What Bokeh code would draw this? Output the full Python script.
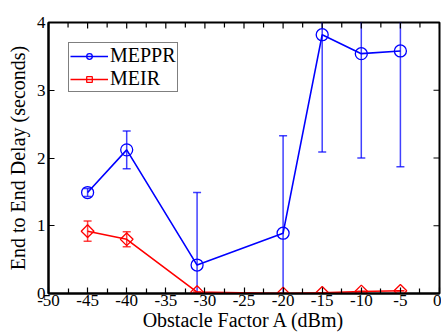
import math
from bokeh.plotting import figure
from bokeh.models import (Range1d, FixedTicker, Whisker, ColumnDataSource,
                          Legend, LegendItem)
from bokeh.embed import file_html
from bokeh.resources import INLINE

# ---- data ----
x_vals = [-45, -40, -31, -20, -15, -10, -5]
meppr = [1.49, 2.12, 0.42, 0.89, 3.82, 3.54, 3.58]
meppr_err = [0.06, 0.28, 1.07, 1.44, 1.73, 1.54, 1.71]
meir = [0.92, 0.80, 0.02, 0.00, 0.01, 0.03, 0.04]
meir_err = [0.15, 0.11, 0.0, 0.0, 0.0, 0.0, 0.0]
x_ticks = [-50, -45, -40, -35, -30, -25, -20, -15, -10, -5, 0]
x_minor = [-47.5, -42.5, -37.5, -32.5, -27.5, -22.5, -17.5, -12.5, -7.5, -2.5]
y_ticks = [0, 1, 2, 3, 4]

FONT = "Liberation Serif"
BLUE = "#0000ff"
RED = "#ff0000"

p = figure(width=441, height=333, output_backend="svg", toolbar_location=None,
           x_range=Range1d(x_ticks[0], x_ticks[-1]), y_range=Range1d(y_ticks[0], y_ticks[-1]),
           min_border_left=48, min_border_right=2, min_border_top=22, min_border_bottom=39)
p.xgrid.visible = False
p.ygrid.visible = False
p.outline_line_color = "black"
p.outline_line_width = 2
p.background_fill_color = "white"
p.border_fill_color = "white"

p.xaxis.ticker = FixedTicker(ticks=x_ticks, minor_ticks=x_minor)
p.yaxis.ticker = FixedTicker(ticks=y_ticks, minor_ticks=[])
p.xaxis.major_label_overrides = {t: str(t) for t in x_ticks}
p.yaxis.major_label_overrides = {t: str(t) for t in y_ticks}
p.xaxis.axis_label = "Obstacle Factor A (dBm)"
p.yaxis.axis_label = "End to End Delay (seconds)"
for ax in (p.xaxis[0], p.yaxis[0]):
    ax.axis_line_width = 2
    ax.axis_line_color = "black"
    ax.major_tick_in = 6
    ax.major_tick_out = 0
    ax.minor_tick_in = 5
    ax.minor_tick_out = 0
    ax.major_tick_line_width = 1.2
    ax.minor_tick_line_width = 1.2
    ax.major_label_text_font = FONT
    ax.major_label_text_font_size = "17px"
    ax.major_label_text_color = "black"
    ax.axis_label_text_font = FONT
    ax.axis_label_text_font_size = "20px"
    ax.axis_label_text_font_style = "normal"
    ax.axis_label_text_color = "black"
p.xaxis.major_label_standoff = 1
p.xaxis.axis_label_standoff = 0
p.yaxis.major_label_standoff = 3
p.yaxis.axis_label_standoff = 5

# mirrored inward ticks on top and right edges of the frame
p.scatter(x=x_ticks, y=[y_ticks[-1]] * len(x_ticks), marker="dash", angle=math.pi / 2,
          size=12, line_color="black", line_width=1.2)
p.scatter(x=x_minor, y=[y_ticks[-1]] * len(x_minor), marker="dash", angle=math.pi / 2,
          size=10, line_color="black", line_width=1.2)
p.scatter(x=[x_ticks[-1]] * len(y_ticks), y=y_ticks, marker="dash", angle=0,
          size=12, line_color="black", line_width=1.2)

src1 = ColumnDataSource(dict(x=x_vals, y=meppr,
                             lo=[v - e for v, e in zip(meppr, meppr_err)],
                             hi=[v + e for v, e in zip(meppr, meppr_err)]))
src2 = ColumnDataSource(dict(x=x_vals, y=meir,
                             lo=[v - e for v, e in zip(meir, meir_err)],
                             hi=[v + e for v, e in zip(meir, meir_err)]))

for src, col in ((src1, BLUE), (src2, RED)):
    w = Whisker(source=src, base="x", lower="lo", upper="hi", line_color=col,
                line_width=1.5, line_alpha=0.75)
    for h in (w.upper_head, w.lower_head):
        h.size = 8
        h.line_color = col
        h.line_width = 1.5
        h.line_alpha = 0.75
    p.add_layout(w)

l1 = p.line("x", "y", source=src1, line_color=BLUE, line_width=1.6)
s1 = p.scatter("x", "y", source=src1, marker="circle", size=12, fill_color=None,
               line_color=BLUE, line_width=1.3)
l2 = p.line("x", "y", source=src2, line_color=RED, line_width=1.6)
s2 = p.scatter("x", "y", source=src2, marker="square", angle=math.pi / 4, size=9,
               fill_color=None, line_color=RED, line_width=1.3)

legend = Legend(items=[LegendItem(label="MEPPR", renderers=[l1, s1]),
                       LegendItem(label="MEIR", renderers=[l2, s2])],
                location="top_left")
legend.label_text_font = FONT
legend.label_text_font_size = "20px"
legend.label_text_color = "black"
legend.border_line_color = "black"
legend.border_line_width = 1.2
legend.background_fill_alpha = 1
legend.margin = 20
legend.padding = 1
legend.spacing = 0
legend.glyph_width = 38
legend.glyph_height = 14
legend.label_height = 14
legend.label_standoff = 2
legend.label_text_line_height = 0.8
p.add_layout(legend)

open("out.html", "w").write(file_html(p, INLINE))
